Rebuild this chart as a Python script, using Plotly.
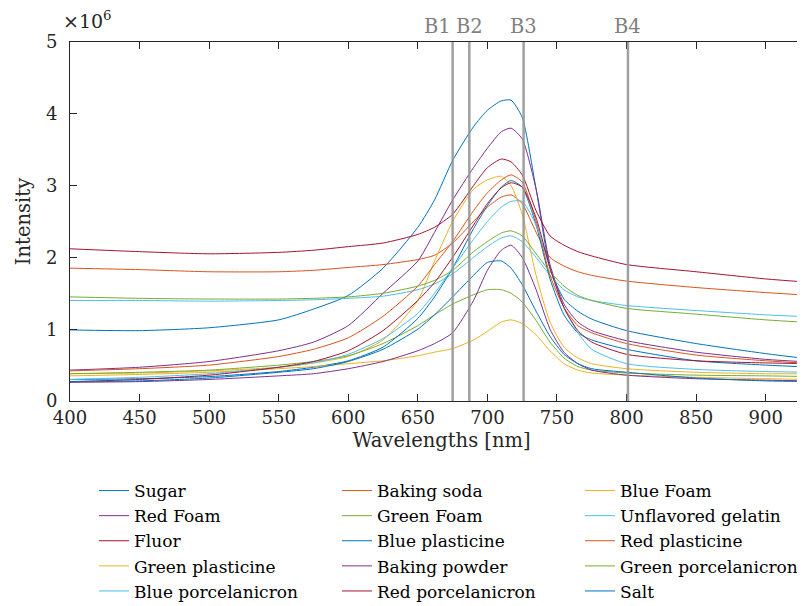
import plotly.graph_objects as go

# Wavelength sample points (nm)
wavelengths = [400, 450, 500, 550, 575, 600, 625, 650, 662, 675, 690, 700, 710, 717,
               725, 735, 745, 755, 765, 775, 800, 850, 900, 934]

# Intensities in units of 1e6
sugar = [0.99, 0.98, 1.02, 1.13, 1.28, 1.47, 1.85, 2.42, 2.80, 3.35, 3.82, 4.05, 4.18, 4.19,
         3.95, 2.95, 1.85, 1.42, 1.25, 1.14, 0.98, 0.80, 0.66, 0.58]
baking_soda = [1.85, 1.83, 1.80, 1.80, 1.82, 1.86, 1.90, 1.97, 2.03, 2.20, 2.50, 2.70, 2.84, 2.87,
               2.75, 2.35, 2.00, 1.88, 1.80, 1.75, 1.67, 1.58, 1.51, 1.47]
blue_foam = [0.38, 0.39, 0.42, 0.47, 0.53, 0.62, 0.85, 1.40, 1.95, 2.50, 2.95, 3.08, 3.13, 3.00,
             2.60, 1.75, 1.10, 0.75, 0.60, 0.52, 0.45, 0.40, 0.38, 0.38]
red_foam = [0.43, 0.47, 0.55, 0.70, 0.82, 1.05, 1.50, 1.95, 2.35, 2.80, 3.25, 3.52, 3.75, 3.80,
            3.65, 2.95, 1.90, 1.35, 1.10, 0.98, 0.84, 0.68, 0.58, 0.54]
green_foam = [0.38, 0.40, 0.43, 0.50, 0.55, 0.63, 0.80, 1.05, 1.20, 1.35, 1.48, 1.55, 1.55, 1.50,
              1.38, 1.12, 0.82, 0.60, 0.48, 0.43, 0.39, 0.36, 0.35, 0.34]
gelatin = [1.40, 1.40, 1.39, 1.40, 1.41, 1.43, 1.46, 1.55, 1.63, 1.77, 2.00, 2.15, 2.27, 2.30,
           2.22, 2.00, 1.75, 1.55, 1.45, 1.40, 1.33, 1.26, 1.20, 1.17]
fluor = [2.12, 2.08, 2.05, 2.07, 2.10, 2.15, 2.20, 2.32, 2.42, 2.60, 3.00, 3.25, 3.37, 3.33,
         3.15, 2.65, 2.30, 2.17, 2.08, 2.02, 1.90, 1.80, 1.70, 1.65]
blue_plasticine = [0.30, 0.31, 0.34, 0.41, 0.47, 0.56, 0.75, 1.15, 1.45, 1.85, 2.40, 2.72, 2.98, 3.07,
                   2.98, 2.45, 1.70, 1.20, 0.95, 0.85, 0.72, 0.56, 0.50, 0.47]
red_plasticine = [0.42, 0.45, 0.50, 0.62, 0.72, 0.88, 1.18, 1.60, 1.90, 2.22, 2.65, 2.90, 3.08, 3.15,
                  3.05, 2.50, 1.75, 1.30, 1.05, 0.95, 0.80, 0.64, 0.56, 0.52]
green_plasticine = [0.35, 0.37, 0.40, 0.45, 0.48, 0.52, 0.56, 0.63, 0.68, 0.73, 0.85, 0.97, 1.10, 1.13,
                    1.08, 0.92, 0.70, 0.52, 0.43, 0.39, 0.36, 0.33, 0.31, 0.30]
baking_powder = [0.26, 0.27, 0.30, 0.35, 0.38, 0.45, 0.55, 0.70, 0.80, 0.95, 1.40, 1.82, 2.10, 2.17,
                 2.00, 1.55, 1.00, 0.68, 0.52, 0.43, 0.36, 0.31, 0.29, 0.28]
green_porcelanicron = [1.45, 1.43, 1.42, 1.42, 1.43, 1.45, 1.50, 1.60, 1.68, 1.82, 2.08, 2.22, 2.34, 2.37,
                       2.30, 2.05, 1.80, 1.60, 1.47, 1.40, 1.29, 1.21, 1.13, 1.09]
blue_porcelanicron = [0.30, 0.33, 0.38, 0.47, 0.53, 0.65, 0.87, 1.22, 1.50, 1.85, 2.25, 2.50, 2.70, 2.78,
                      2.78, 2.45, 1.85, 1.30, 0.95, 0.72, 0.52, 0.44, 0.41, 0.40]
red_porcelanicron = [0.27, 0.30, 0.36, 0.47, 0.55, 0.70, 0.98, 1.40, 1.65, 2.00, 2.45, 2.75, 2.97, 3.04,
                     2.98, 2.55, 1.85, 1.30, 0.98, 0.82, 0.65, 0.56, 0.53, 0.52]
salt = [0.27, 0.28, 0.32, 0.40, 0.45, 0.55, 0.72, 1.00, 1.20, 1.45, 1.75, 1.93, 1.95, 1.85,
        1.62, 1.25, 0.90, 0.65, 0.52, 0.45, 0.40, 0.32, 0.28, 0.27]

series_names = ["Sugar", "Baking soda", "Blue Foam", "Red Foam", "Green Foam",
                "Unflavored gelatin", "Fluor", "Blue plasticine", "Red plasticine",
                "Green plasticine", "Baking powder", "Green porcelanicron",
                "Blue porcelanicron", "Red porcelanicron", "Salt"]
series_values = [sugar, baking_soda, blue_foam, red_foam, green_foam, gelatin, fluor,
                 blue_plasticine, red_plasticine, green_plasticine, baking_powder,
                 green_porcelanicron, blue_porcelanicron, red_porcelanicron, salt]

band_names = ["B1", "B2", "B3", "B4"]
band_positions = [675, 687, 726, 801]

x_ticks = [400, 450, 500, 550, 600, 650, 700, 750, 800, 850, 900]
y_ticks = [0, 1, 2, 3, 4, 5]

colors = ["#0072BD", "#D95319", "#EDB120", "#7E2F8E", "#77AC30", "#4DBEEE", "#A2142F"]

FONT = "DejaVu Serif"
INK = "#262626"

fig = go.Figure()
for i, (name, vals) in enumerate(zip(series_names, series_values)):
    fig.add_trace(go.Scatter(
        x=wavelengths, y=vals, name=name, mode="lines",
        line=dict(color=colors[i % len(colors)], width=1, shape="spline", smoothing=0.6),
    ))

for name, pos in zip(band_names, band_positions):
    fig.add_shape(type="line", xref="x", yref="paper", x0=pos, x1=pos, y0=0, y1=1,
                  line=dict(color="rgba(150,150,150,0.9)", width=2.5), layer="above")
    fig.add_annotation(x=pos, y=1, xref="x", yref="paper", text=name, showarrow=False,
                       xanchor="right" if name == "B1" else "center", yanchor="bottom",
                       yshift=2,
                       font=dict(family=FONT, size=19.5, color="#7f7f7f"))

fig.add_annotation(x=0, y=1, xref="paper", yref="paper", text="×10<sup>6</sup>",
                   showarrow=False, xanchor="left", yanchor="bottom", xshift=-9, yshift=8,
                   font=dict(family=FONT, size=19, color=INK))

axis_common = dict(showgrid=False, zeroline=False, showline=True, linecolor=INK,
                   linewidth=1, mirror="ticks", ticks="inside", ticklen=7,
                   tickcolor=INK, tickfont=dict(family=FONT, size=18, color=INK))

fig.update_xaxes(range=[400, 934], tickvals=x_ticks, **axis_common,
                 title=dict(text="Wavelengths [nm]", font=dict(family=FONT, size=19.5, color=INK),
                            standoff=6))
fig.update_yaxes(range=[0, 5], tickvals=y_ticks, **axis_common, ticklabelstandoff=8,
                 title=dict(text="Intensity", font=dict(family=FONT, size=19.5, color=INK),
                            standoff=10))

fig.update_layout(
    width=805, height=606,
    margin=dict(l=62, r=0, t=34, b=213, autoexpand=False),
    paper_bgcolor="white", plot_bgcolor="white",
    showlegend=True,
    legend=dict(orientation="h", x=0.0323, y=-0.2006, xanchor="left", yanchor="top",
                entrywidth=198, entrywidthmode="pixels", tracegroupgap=0,
                font=dict(family=FONT, size=17, color="#000000"),
                bgcolor="rgba(0,0,0,0)"),
)

fig.write_html("out.html")
